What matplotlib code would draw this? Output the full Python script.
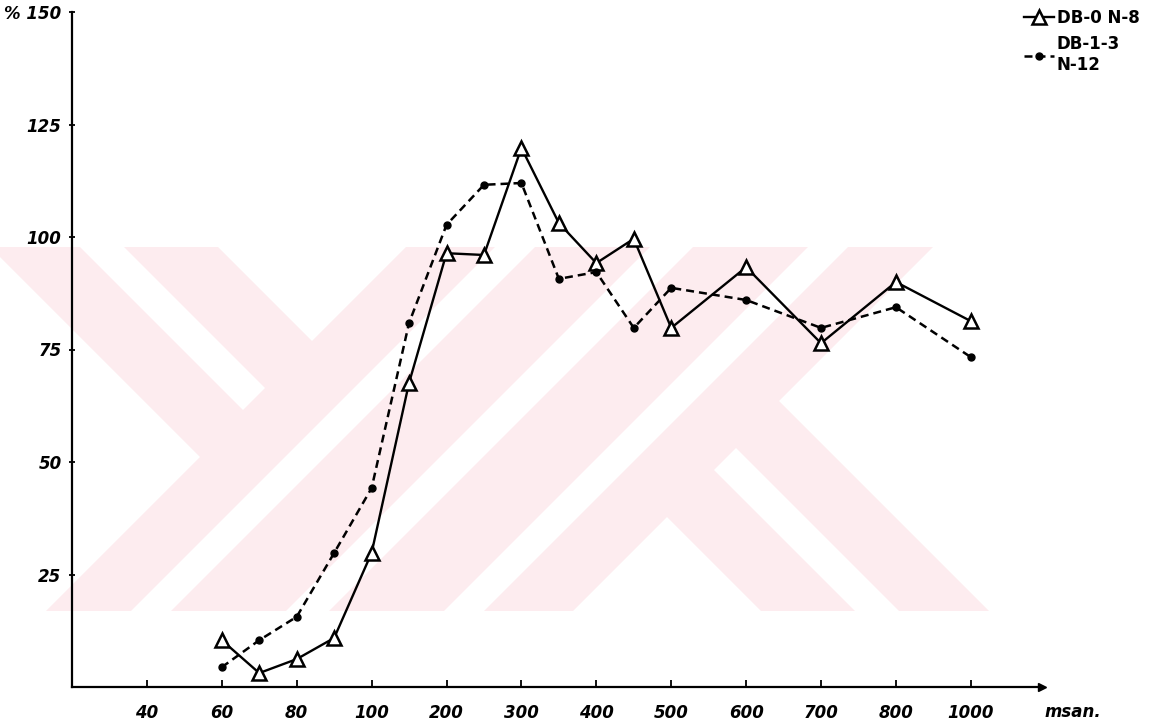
import numpy as np
import matplotlib
matplotlib.use("Agg")
import matplotlib.pyplot as plt
from matplotlib.legend_handler import HandlerLine2D
from matplotlib.patches import Polygon

# Stimulus durations (msec) and response (%) for the two groups
durations = [60, 70, 80, 90, 100, 150, 200, 250, 300, 350, 400, 450, 500, 600, 700, 800, 1000]
db0_n8 = [10.4, 3.1, 6.2, 10.9, 29.8, 67.6, 96.4, 96.0, 119.8, 103.1, 94.2, 99.6,
          79.8, 93.3, 76.4, 90.0, 81.3]
db13_n12 = [4.4, 10.4, 15.6, 29.8, 44.2, 80.9, 102.7, 111.6, 112.0, 90.7, 92.2, 79.8,
            88.7, 86.0, 79.8, 84.4, 73.3]

x_ticks = [40, 60, 80, 100, 200, 300, 400, 500, 600, 700, 800, 1000]
x_ticklabels = ["40", "60", "80", "100", "200", "300", "400", "500", "600", "700", "800", "1000"]
y_ticks = [25, 50, 75, 100, 125, 150]
y_ticklabels = ["25", "50", "75", "100", "125", "% 150"]

# Piecewise time axis: origin and each labelled duration are equally spaced
anchors = np.array([0] + x_ticks + [1200], dtype=float)
slots = np.arange(len(anchors), dtype=float)


def forward(v):
    return np.interp(v, anchors, slots)


def inverse(p):
    return np.interp(p, slots, anchors)


class EndMarkerHandler(HandlerLine2D):
    """Legend handle with the marker at the right end of the line."""

    def get_xdata(self, legend, xdescent, ydescent, width, height, fontsize):
        xdata = np.array([-xdescent, -xdescent + width])
        return xdata, np.array([-xdescent + width])


W, H = 1149, 728
fig = plt.figure(figsize=(W / 100, H / 100), dpi=100)

# Background emblem in pale red
bg = fig.add_axes([0, 0, 1, 1], zorder=0)
bg.set_xlim(0, W)
bg.set_ylim(H, 0)
bg.axis("off")
pink = "#fdecef"
emblem = [(0, 247), (218, 247), (312, 341), (406, 247), (933, 247), (779, 401),
          (989, 611), (761, 611), (667, 517), (573, 611), (46, 611), (200, 457), (0, 257)]
bg.add_patch(Polygon(emblem, closed=True, fc=pink, ec="none"))
gaps = [
    [(80, 247), (124, 247), (265, 388), (243, 410)],
    [(899, 611), (855, 611), (714, 470), (736, 448)],
    [(495, 247), (535, 247), (171, 611), (131, 611)],
    [(484, 611), (444, 611), (808, 247), (848, 247)],
    [(650, 247), (693, 247), (329, 611), (286, 611)],
]
for g in gaps:
    bg.add_patch(Polygon(g, closed=True, fc="white", ec="none"))

# Main chart
ax = fig.add_axes([72 / W, 41 / H, (1042 - 72) / W, (687 - 12) / H], zorder=1)
ax.patch.set_alpha(0)
ax.set_xscale("function", functions=(forward, inverse))
ax.set_xlim(0, 1190)
ax.set_ylim(0, 150)

for side in ("top", "right"):
    ax.spines[side].set_visible(False)
for side in ("left", "bottom"):
    ax.spines[side].set_linewidth(1.6)
    ax.spines[side].set_color("black")

tick_font = dict(style="italic", weight="bold", size=12)
ax.set_xticks(x_ticks)
ax.set_xticklabels(x_ticklabels, **tick_font)
ax.set_yticks(y_ticks)
ax.set_yticklabels(y_ticklabels, **tick_font)
ax.xaxis.set_minor_locator(matplotlib.ticker.NullLocator())
ax.yaxis.set_minor_locator(matplotlib.ticker.NullLocator())
ax.tick_params(axis="x", direction="in", length=5, width=1.3, pad=12)
ax.tick_params(axis="y", direction="inout", length=5, width=1.3, pad=5)

# Arrow head at the end of the time axis
ax.plot([1], [0], marker=">", ms=6, color="black", transform=ax.transAxes, clip_on=False)
ax.annotate("msan.", xy=(1, 0), xycoords="axes fraction", xytext=(2, -18),
            textcoords="offset points", ha="left", va="center", **tick_font)

l1, = ax.plot(durations, db0_n8, color="black", lw=1.7, marker="^", ms=10,
              mfc="white", mec="black", mew=1.8, label="DB-0 N-8", clip_on=False)
l2, = ax.plot(durations, db13_n12, color="black", lw=1.8, ls=(0, (3.2, 2.0)),
              marker="o", ms=5, label="DB-1-3\nN-12", clip_on=False)

fig.legend(handles=[l1, l2], loc="upper right", bbox_to_anchor=(1146 / W, 1 - 2 / H),
           frameon=False, prop=dict(weight="bold", size=12), handlelength=1.8,
           handletextpad=0.15, labelspacing=0.5, borderaxespad=0,
           handler_map={l1: EndMarkerHandler(), l2: EndMarkerHandler()})

fig.savefig("out.png", dpi=100, facecolor="white")
